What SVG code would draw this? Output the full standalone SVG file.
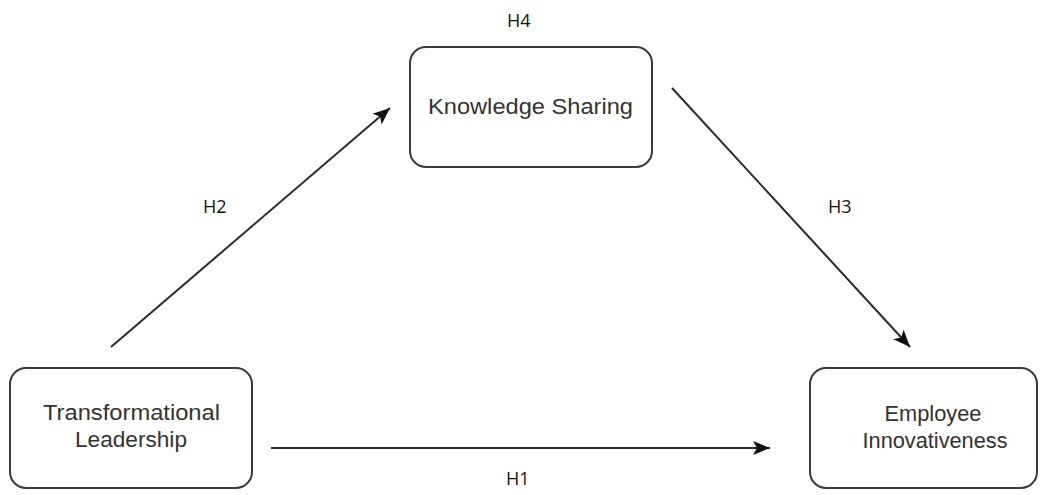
<svg xmlns="http://www.w3.org/2000/svg" width="1041" height="495" viewBox="0 0 1041 495">
  <style>
    .box { fill: #ffffff; stroke: #3a3a3a; stroke-width: 2; }
    .lbl { font-family: "Liberation Sans", Arial, sans-serif; font-size: 22px; fill: #333333; text-anchor: middle; }
    .hyp { font-family: "Open Sans", "Liberation Sans", sans-serif; font-size: 18px; fill: #111111; }
    .edge { stroke: #2a2a2a; stroke-width: 2; fill: none; marker-end: url(#arrow); }
  </style>
  <defs>
    <marker id="arrow" markerUnits="userSpaceOnUse" markerWidth="18" markerHeight="16" refX="17" refY="8" orient="auto">
      <path d="M0,1 L17,8 L0,15 L4,8 z" fill="#111111"/>
    </marker>
  </defs>
  <rect width="1041" height="495" fill="#ffffff"/>

  <g id="connectors">
    <line class="edge" x1="111" y1="347" x2="390" y2="108"/>
    <line class="edge" x1="672" y1="88" x2="910" y2="347"/>
    <line class="edge" x1="271" y1="448" x2="770" y2="448"/>
  </g>

  <g id="node-knowledge-sharing">
    <rect class="box" x="410" y="47" width="242" height="120" rx="16" ry="16"/>
    <text class="lbl" x="530.5" y="114" textLength="205" lengthAdjust="spacingAndGlyphs">Knowledge Sharing</text>
  </g>

  <g id="node-transformational-leadership">
    <rect class="box" x="10" y="368" width="242" height="120" rx="16" ry="16"/>
    <text class="lbl" x="131.5" y="420" textLength="177" lengthAdjust="spacingAndGlyphs">Transformational</text>
    <text class="lbl" x="131" y="447" textLength="112" lengthAdjust="spacingAndGlyphs">Leadership</text>
  </g>

  <g id="node-employee-innovativeness">
    <rect class="box" x="810" y="368" width="227" height="120" rx="16" ry="16"/>
    <text class="lbl" x="933" y="421" textLength="97" lengthAdjust="spacingAndGlyphs">Employee</text>
    <text class="lbl" x="935" y="448" textLength="145" lengthAdjust="spacingAndGlyphs">Innovativeness</text>
  </g>

  <g id="labels">
    <text class="hyp" x="507" y="27">H4</text>
    <text class="hyp" x="203" y="213">H2</text>
    <text class="hyp" x="828" y="213">H3</text>
    <text class="hyp" x="506" y="485">H1</text>
  </g>
</svg>
